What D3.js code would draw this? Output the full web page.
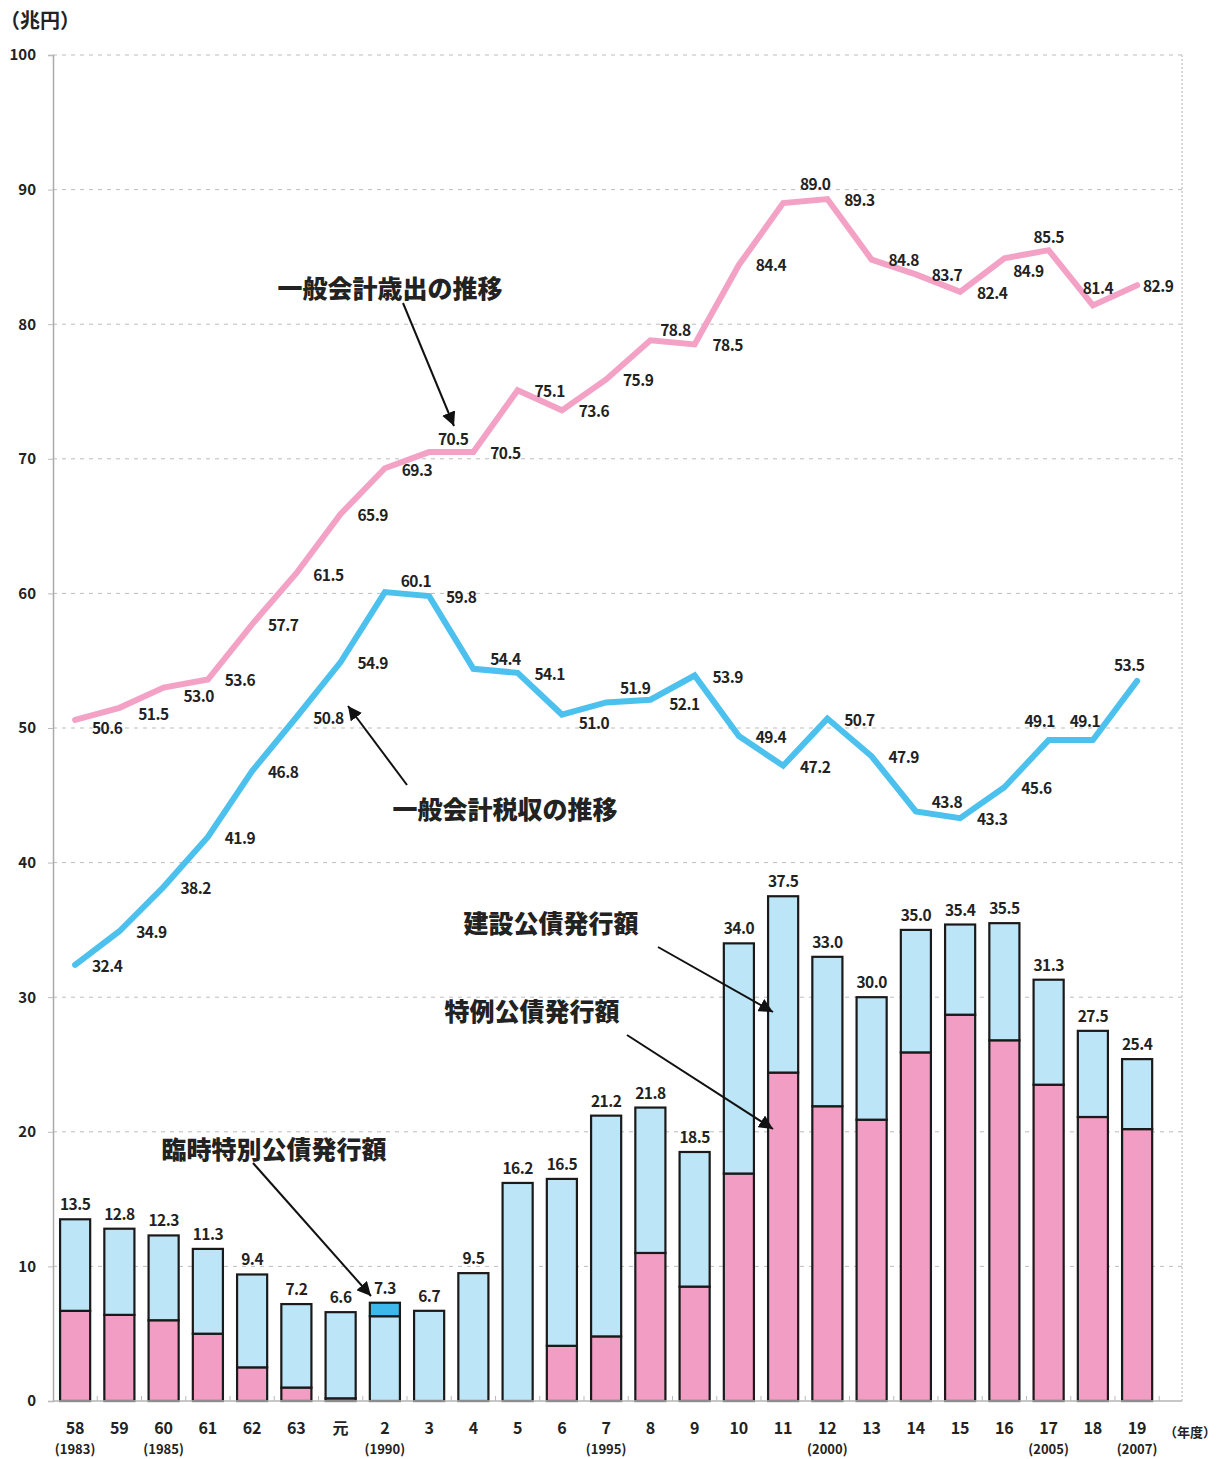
<!DOCTYPE html>
<html lang="ja">
<head>
<meta charset="utf-8">
<title>一般会計歳出・税収と公債発行額の推移</title>
<script src="https://cdn.jsdelivr.net/npm/d3@7/dist/d3.min.js"></script>
<style>
  html, body { margin: 0; padding: 0; background: #fff; }
  svg { display: block; }
  text { font-family: "Noto Sans CJK JP", "Noto Sans", sans-serif; fill: #222; }
</style>
</head>
<body>
<svg id="chart" width="1225" height="1459"></svg>
<script>
// 年度ラベル（和暦）と西暦の補足
const fiscalYears = ["58","59","60","61","62","63","元","2","3","4","5","6","7","8","9","10","11","12","13","14","15","16","17","18","19"];
const westernYears = {"58":"(1983)","60":"(1985)","2":"(1990)","7":"(1995)","12":"(2000)","17":"(2005)","19":"(2007)"};

// 一般会計歳出・税収（兆円）
const expenditure = [50.6,51.5,53.0,53.6,57.7,61.5,65.9,69.3,70.5,70.5,75.1,73.6,75.9,78.8,78.5,84.4,89.0,89.3,84.8,83.7,82.4,84.9,85.5,81.4,82.9];
const taxRevenue  = [32.4,34.9,38.2,41.9,46.8,50.8,54.9,60.1,59.8,54.4,54.1,51.0,51.9,52.1,53.9,49.4,47.2,50.7,47.9,43.8,43.3,45.6,49.1,49.1,53.5];

// 公債発行額（兆円）
const specialBonds      = [6.7,6.4,6.0,5.0,2.5,1.0,0.2,0,0,0,0,4.1,4.8,11.0,8.5,16.9,24.4,21.9,20.9,25.9,28.7,26.8,23.5,21.1,20.2];
const constructionBonds = [6.8,6.4,6.3,6.3,6.9,6.2,6.4,6.3,6.7,9.5,16.2,12.4,16.4,10.8,10.0,17.1,13.1,11.1,9.1,9.1,6.7,8.7,7.8,6.4,5.2];
const temporaryBonds    = [0,0,0,0,0,0,0,1.0,0,0,0,0,0,0,0,0,0,0,0,0,0,0,0,0,0];
const bondTotals        = [13.5,12.8,12.3,11.3,9.4,7.2,6.6,7.3,6.7,9.5,16.2,16.5,21.2,21.8,18.5,34.0,37.5,33.0,30.0,35.0,35.4,35.5,31.3,27.5,25.4];

const yTicks = [0,10,20,30,40,50,60,70,80,90,100];

// 数値ラベルの配置（点からのずれ, px）
const expLabelShift = [[32,7],[34,5],[35,7],[32,-1],[31,0],[32,1],[32,0],[32,1],[24,-14],[32,0],[32,0],[32,0],[32,0],[25,-11],[33,0],[32,-1],[32,-20],[32,0],[32,-1],[31,0],[32,0],[24,12],[0,-14],[5,-18],[21,0]];
const taxLabelShift = [[32,0],[32,0],[32,0],[32,0],[31,0],[32,0],[32,0],[31,-12],[32,0],[32,-11],[32,0],[32,7],[29,-15],[34,3],[33,0],[32,0],[32,0],[32,0],[32,0],[31,-10],[32,0],[32,0],[-9,-20],[-8,-20],[-8,-17]];

const svg = d3.select("#chart");
const plotLeft = 53, plotRight = 1182, plotTop = 55, plotBottom = 1401;
const bandEnd = plotLeft + 44.25 * fiscalYears.length;

const x = d3.scaleBand().domain(fiscalYears).range([plotLeft, bandEnd]).padding(0);
const cx = d => x(d) + x.bandwidth() / 2;
const barW = x.bandwidth() * 0.68;
const y = d3.scaleLinear().domain([0, 100]).range([plotBottom, plotTop]);

const colors = {
  expLine: "#f3a2c6",
  taxLine: "#4cc1ee",
  special: "#f29dc3",
  construction: "#bde5f8",
  temporary: "#3cb8ea"
};

// グリッド線
svg.append("g").selectAll("line").data(yTicks.filter(t => t > 0)).join("line")
  .attr("x1", plotLeft).attr("x2", plotRight)
  .attr("y1", d => y(d)).attr("y2", d => y(d))
  .attr("stroke", "#bdbdbd").attr("stroke-width", 1)
  .attr("stroke-dasharray", "4,5");

// 右枠線
svg.append("line").attr("x1", plotRight).attr("x2", plotRight).attr("y1", plotTop).attr("y2", plotBottom)
  .attr("stroke", "#cfcfcf").attr("stroke-width", 1.5).attr("stroke-dasharray", "2,2");

// 縦軸
const yAxis = d3.axisLeft(y).tickValues(yTicks).tickSize(5).tickPadding(12).tickFormat(d3.format("d"));
const yAxisG = svg.append("g").attr("transform", `translate(${plotLeft},0)`).call(yAxis);
yAxisG.select(".domain").attr("stroke", "#aaa").attr("stroke-width", 1.5);
yAxisG.selectAll(".tick line").attr("stroke", "#bbb");
yAxisG.selectAll(".tick text").attr("font-size", 15).attr("font-weight", 700)
  .attr("fill", "#222").style("font-family", "'Noto Sans CJK JP', sans-serif");

// 積み上げ棒（特例・建設・臨時特別）
const rows = fiscalYears.map((fy, i) => ({
  fy, special: specialBonds[i], construction: constructionBonds[i], temporary: temporaryBonds[i]
}));
const stack = d3.stack().keys(["special", "construction", "temporary"])(rows);

const barG = svg.append("g");
stack.forEach(layer => {
  barG.append("g").selectAll("rect").data(layer.filter(s => s[1] - s[0] > 0)).join("rect")
    .attr("x", s => cx(s.data.fy) - barW / 2)
    .attr("width", barW)
    .attr("y", s => y(s[1]))
    .attr("height", s => y(s[0]) - y(s[1]))
    .attr("fill", colors[layer.key])
    .attr("stroke", "#1a1a1a").attr("stroke-width", 2.2);
});

// 横軸
const xAxisG = svg.append("g").attr("transform", `translate(0,${plotBottom})`);
xAxisG.append("line").attr("x1", plotLeft).attr("x2", plotRight).attr("y1", 0).attr("y2", 0)
  .attr("stroke", "#b5b5b5").attr("stroke-width", 1.5);
xAxisG.selectAll("line.sep").data(fiscalYears).join("line").attr("class", "sep")
  .attr("x1", d => x(d) + x.bandwidth()).attr("x2", d => x(d) + x.bandwidth())
  .attr("y1", -5).attr("y2", 0).attr("stroke", "#bbb");
xAxisG.selectAll("text.fy").data(fiscalYears).join("text").attr("class", "fy")
  .attr("x", d => cx(d)).attr("y", 33).attr("text-anchor", "middle")
  .attr("font-size", 16).attr("font-weight", 700).text(d => d);
xAxisG.selectAll("text.wy").data(fiscalYears.filter(d => westernYears[d])).join("text").attr("class", "wy")
  .attr("x", d => cx(d)).attr("y", 53).attr("text-anchor", "middle")
  .attr("font-size", 13).attr("font-weight", 700).text(d => westernYears[d]);
svg.append("text").attr("x", 1190).attr("y", 1437).attr("text-anchor", "middle")
  .attr("font-size", 13).attr("font-weight", 700).text("（年度）");

// 単位
svg.append("text").attr("x", 0).attr("y", 28).attr("font-size", 20).attr("font-weight", 700).text("（兆円）");

// 棒の合計値
svg.append("g").selectAll("text").data(bondTotals).join("text")
  .attr("x", (d, i) => cx(fiscalYears[i]))
  .attr("y", d => y(d) - 16)
  .attr("text-anchor", "middle").attr("dominant-baseline", "central")
  .attr("font-size", 15.5).attr("font-weight", 700).attr("letter-spacing", -0.5)
  .text(d => d.toFixed(1));

// 折れ線
const line = d3.line().x((d, i) => cx(fiscalYears[i])).y(d => y(d)).curve(d3.curveLinear);
svg.append("path").datum(expenditure).attr("d", line)
  .attr("fill", "none").attr("stroke", colors.expLine).attr("stroke-width", 6)
  .attr("stroke-linejoin", "miter").attr("stroke-linecap", "round");
svg.append("path").datum(taxRevenue).attr("d", line)
  .attr("fill", "none").attr("stroke", colors.taxLine).attr("stroke-width", 6)
  .attr("stroke-linejoin", "miter").attr("stroke-linecap", "round");

// 折れ線の数値
function pointLabels(values, shifts) {
  svg.append("g").selectAll("text").data(values).join("text")
    .attr("x", (d, i) => cx(fiscalYears[i]) + shifts[i][0])
    .attr("y", (d, i) => y(d) + shifts[i][1])
    .attr("text-anchor", "middle").attr("dominant-baseline", "central")
    .attr("font-size", 15.5).attr("font-weight", 700).attr("letter-spacing", -0.5)
    .text(d => d.toFixed(1));
}
pointLabels(expenditure, expLabelShift);
pointLabels(taxRevenue, taxLabelShift);

// 注記と矢印
const defs = svg.append("defs");
defs.append("marker").attr("id", "arrowHead")
  .attr("viewBox", "0 0 10 10").attr("refX", 10).attr("refY", 5)
  .attr("markerWidth", 7).attr("markerHeight", 7).attr("markerUnits", "strokeWidth")
  .attr("orient", "auto")
  .append("path").attr("d", "M0,0 L10,5 L0,10 Z").attr("fill", "#111");

const notes = [
  { text: "一般会計歳出の推移", tx: 390, ty: 287, from: [403, 303], to: [454, 426] },
  { text: "一般会計税収の推移", tx: 505, ty: 808, from: [407, 785], to: [348, 706] },
  { text: "建設公債発行額", tx: 551, ty: 922, from: [658, 947], to: [773, 1012] },
  { text: "特例公債発行額", tx: 532, ty: 1010, from: [627, 1035], to: [773, 1129] },
  { text: "臨時特別公債発行額", tx: 274, ty: 1148, from: [253, 1163], to: [371, 1296] }
];
const noteG = svg.append("g");
noteG.selectAll("line").data(notes).join("line")
  .attr("x1", d => d.from[0]).attr("y1", d => d.from[1])
  .attr("x2", d => d.to[0]).attr("y2", d => d.to[1])
  .attr("stroke", "#111").attr("stroke-width", 2)
  .attr("marker-end", "url(#arrowHead)");
noteG.selectAll("text").data(notes).join("text")
  .attr("x", d => d.tx).attr("y", d => d.ty)
  .attr("text-anchor", "middle").attr("dominant-baseline", "central")
  .attr("font-size", 25).attr("font-weight", 900)
  .text(d => d.text);
</script>
</body>
</html>
